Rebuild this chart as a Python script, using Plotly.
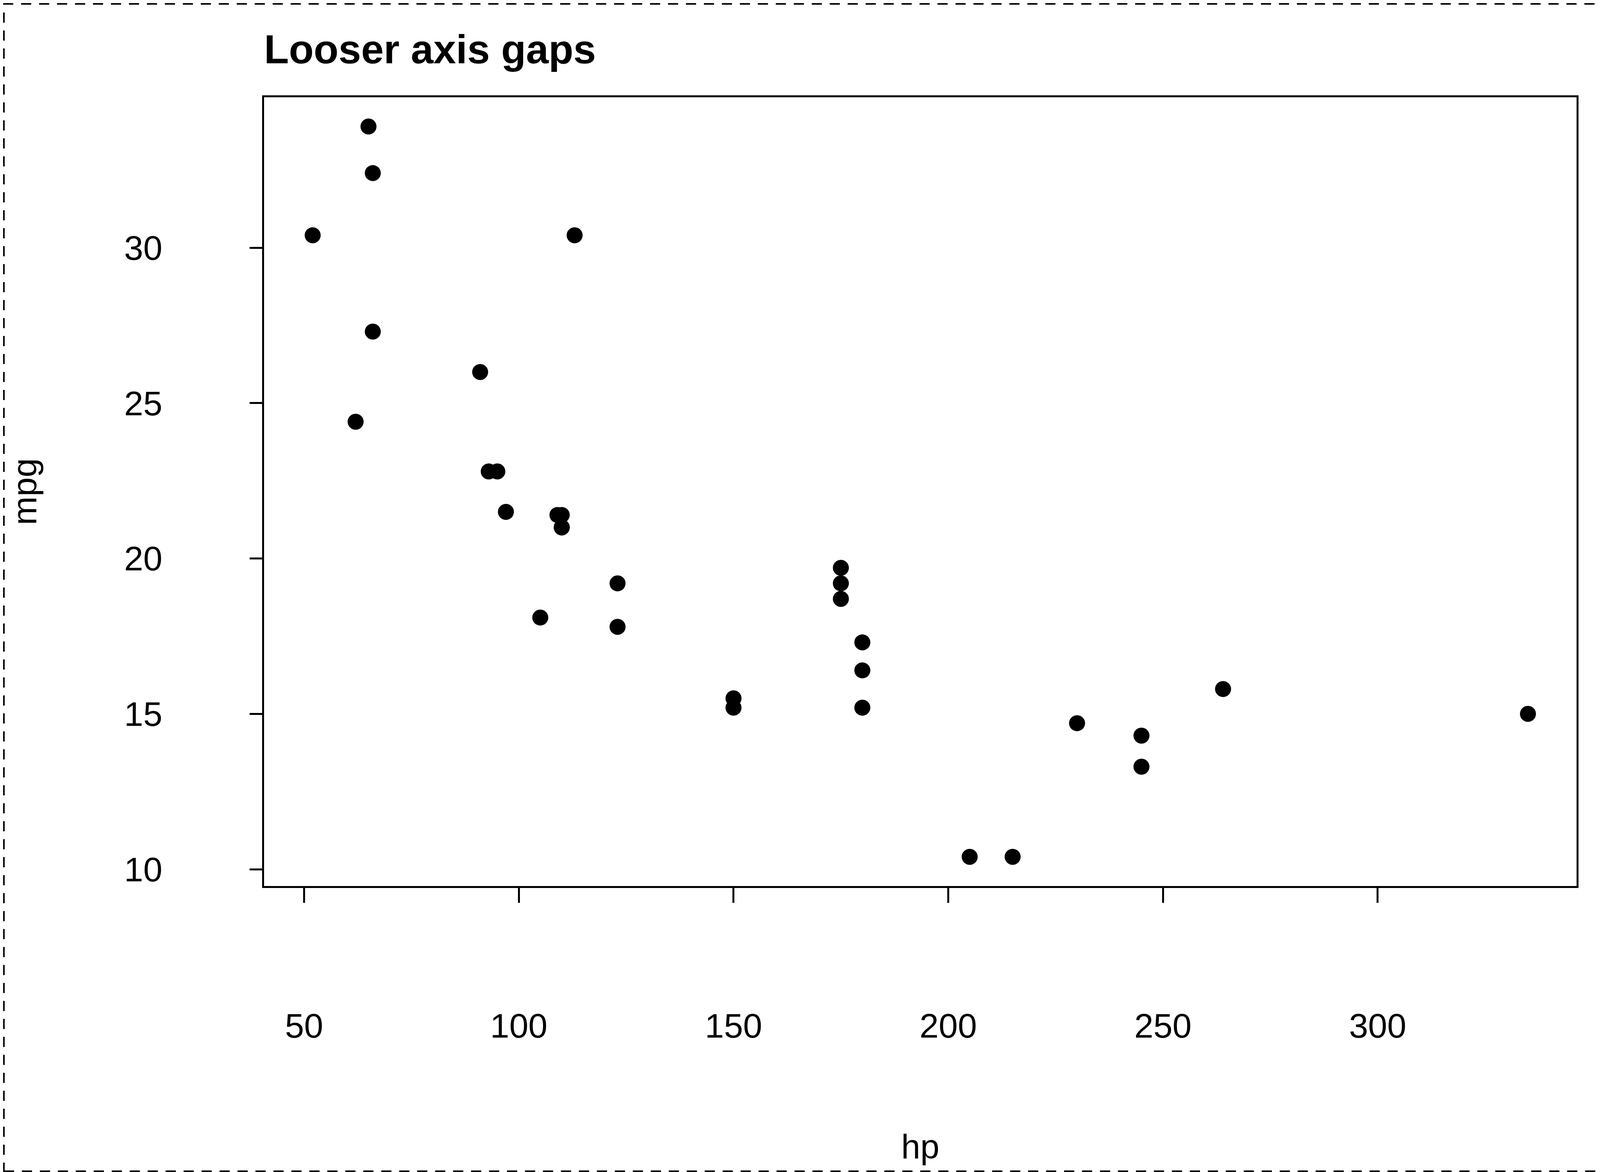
import plotly.graph_objects as go

# mtcars: horsepower vs miles per gallon
hp = [110, 110, 93, 110, 175, 105, 245, 62, 95, 123, 123, 180, 180, 180, 205, 215,
      230, 66, 52, 65, 97, 150, 150, 245, 175, 66, 91, 113, 264, 175, 335, 109]
mpg = [21.0, 21.0, 22.8, 21.4, 18.7, 18.1, 14.3, 24.4, 22.8, 19.2, 17.8, 16.4, 17.3, 15.2, 10.4, 10.4,
       14.7, 32.4, 30.4, 33.9, 21.5, 15.5, 15.2, 13.3, 19.2, 27.3, 26.0, 30.4, 15.8, 19.7, 15.0, 21.4]

x_ticks = [50, 100, 150, 200, 250, 300]
y_ticks = [10, 15, 20, 25, 30]

# the browser viewport is 4096 wide, so the figure is sized to fit it
W, H = 4088, 2992
L, R, T, B = 668, 60, 241, 732
pw = W - L - R
ph = H - T - B

font = "Liberation Sans, Arial, sans-serif"

fig = go.Figure()
fig.add_trace(go.Scatter(x=hp, y=mpg, mode="markers",
                         marker=dict(color="black", size=41, line=dict(width=0)),
                         showlegend=False))

# R-style 4% padding on both axes
def padded(vals):
    lo, hi = min(vals), max(vals)
    d = (hi - lo) * 0.04
    return [lo - d, hi + d]

axis_common = dict(showline=True, mirror=True, linecolor="black", linewidth=4.5,
                   ticks="outside", tickwidth=4.5, tickcolor="black",
                   showgrid=False, zeroline=False,
                   tickfont=dict(family=font, size=88, color="black"))

fig.update_xaxes(range=padded(hp), tickvals=x_ticks, ticklen=38, ticklabelstandoff=240,
                 title=dict(text="hp", font=dict(family=font, size=88, color="black"),
                            standoff=231),
                 **axis_common)
fig.update_yaxes(range=padded(mpg), tickvals=y_ticks, ticklen=32, ticklabelstandoff=206,
                 title=dict(text="mpg", font=dict(family=font, size=88, color="black"),
                            standoff=196),
                 **axis_common)

# dashed frame round the whole figure
fig.add_shape(type="rect", xref="paper", yref="paper",
              x0=(2 - L) / pw, x1=(W - 2 - L) / pw,
              y0=-(B - 2) / ph, y1=(ph + T - 2) / ph,
              line=dict(color="black", width=4, dash="26px,20px"))

fig.update_layout(
    width=W, height=H,
    margin=dict(l=L, r=R, t=T, b=B, autoexpand=False),
    paper_bgcolor="white", plot_bgcolor="white",
    title=dict(text="<b>Looser axis gaps</b>", x=L / W, xanchor="left", xref="container",
               y=1 - 118 / H, yanchor="middle", yref="container",
               font=dict(family=font, size=104, color="black")),
)

fig.write_html("out.html")
